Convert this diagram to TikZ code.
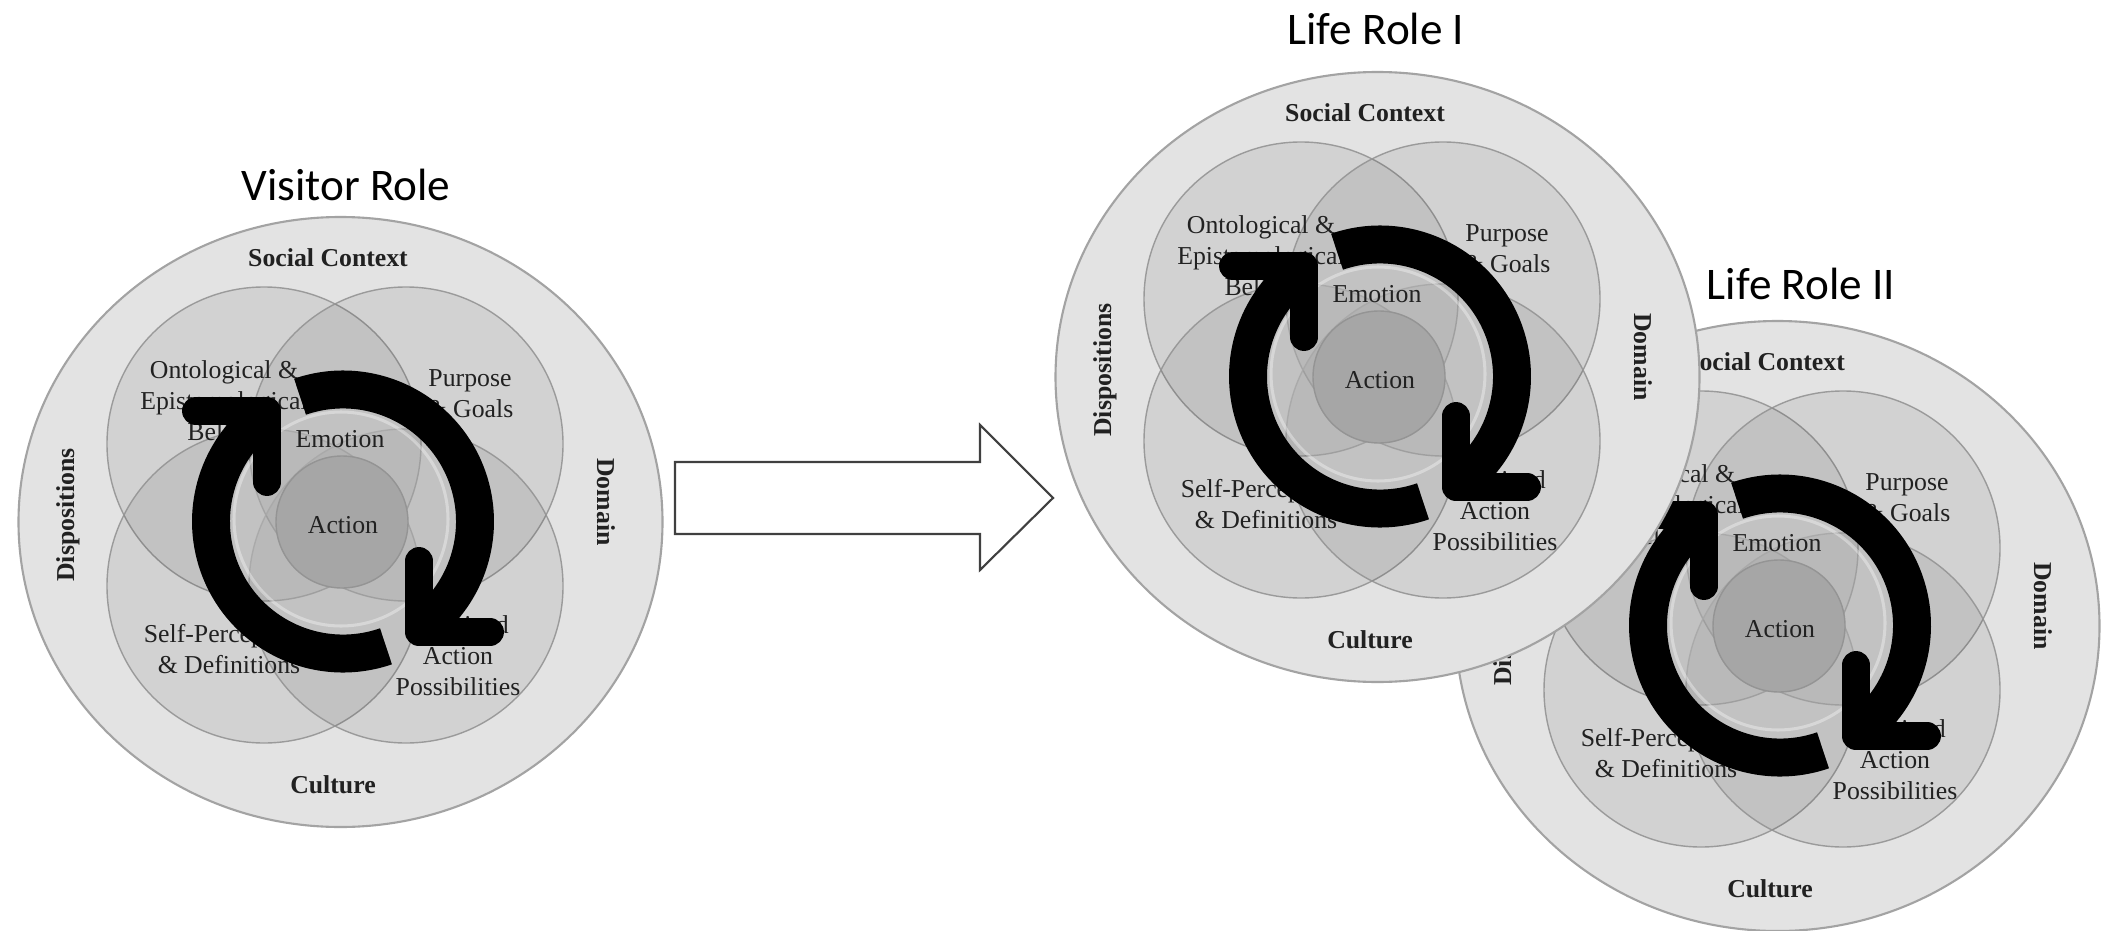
\documentclass[tikz,border=0pt]{standalone}
\usepackage{fontspec}
\setmainfont{Liberation Serif}
\newfontfamily\titlefont{Carlito}
\definecolor{ringfill}{gray}{0.89}
\definecolor{ringline}{gray}{0.64}
\definecolor{petalline}{gray}{0.58}
\definecolor{emofill}{gray}{0.76}
\definecolor{actfill}{gray}{0.65}
\definecolor{actline}{gray}{0.58}
\definecolor{txt}{gray}{0.13}
\tikzset{
  ring/.style={fill=ringfill, draw=ringline, line width=0.9pt},
  petal/.style={fill=black, fill opacity=0.075, draw=petalline, draw opacity=0.9, line width=0.6pt},
  emo/.style={fill=emofill, fill opacity=0.45, draw=white, draw opacity=0.35, line width=1.3pt},
  act/.style={fill=actfill, draw=actline, line width=0.6pt},
  lbl/.style={font=\fontsize{11}{13.2}\selectfont, text=txt, align=center, inner sep=0pt},
  blbl/.style={font=\bfseries\fontsize{11}{13.2}\selectfont, text=txt, inner sep=0pt},
  ttl/.style={font=\titlefont\fontsize{19.3}{22}\selectfont, text=black, inner sep=0pt},
  cyc/.style={draw=black, line width=16.2pt},
  chev/.style={draw=black, line width=11.9pt, line cap=round, line join=round},
  blockarrow/.style={draw=black!75, fill=white, line width=0.9pt, line join=miter},
}
% #1 name prefix, #2 x, #3 y of the Action centre
\newcommand\roleDiagram[3]{%
\begin{scope}[shift={(#2,#3)}]
  \path[ring] (-1.5,0) ellipse [x radius=322, y radius=305];
  \path[petal] (-78,78) circle [radius=157];
  \path[petal] (64,78) circle [radius=157];
  \path[petal] (-78,-64) circle [radius=157];
  \path[petal] (64,-64) circle [radius=157];
  \path[emo] (-1,3) circle [radius=107];
  \path[act] (0,0) circle [radius=66];
  \node[blbl] (#1-sc) at (-14,264) {Social Context};
  \node[blbl] (#1-cu) at (-9,-263) {Culture};
  \node[blbl, rotate=90] (#1-di) at (-274,7) {Dispositions};
  \node[blbl, rotate=-90] (#1-do) at (264,20) {Domain};
  \node[lbl] (#1-onto) at (-118,121) {Ontological \&\\Epistemological\\Beliefs};
  \node[lbl] (#1-purp) at (128,128) {Purpose\\\& Goals};
  \node[lbl] (#1-emo) at (-2,83) {Emotion};
  \node[lbl] (#1-act) at (1,-3) {Action};
  \node[lbl] (#1-self) at (-113,-127) {Self-Perceptions\\\& Definitions};
  \node[lbl] (#1-perc) at (116,-134) {Perceived\\Action\\Possibilities};
  \draw[cyc] ([shift={(109:132)}]1,0.5) arc [start angle=109, end angle=-50, radius=132];
  \draw[cyc] ([shift={(-71:132)}]1,0.5) arc [start angle=-71, end angle=-230, radius=132];
  \draw[chev] (77,-39) -- (77,-110) -- (148,-110);
  \draw[chev] (-146,111) -- (-75,111) -- (-75,40);
\end{scope}}
\begin{document}
\begin{tikzpicture}[x=0.015cm, y=0.015cm]
  \useasboundingbox (0,0) rectangle (2101,930);
  \fill[white] (0,0) rectangle (2101,930);
  \roleDiagram{lrii}{1779}{304}
  \roleDiagram{lri}{1379}{553}
  \roleDiagram{vis}{342}{408}
  \draw[blockarrow] (675,468) -- (980,468) -- (980,505) -- (1053,432) -- (980,360) -- (980,396) -- (675,396) -- cycle;
  \node[ttl] (tvis) at (346,745) {Visitor Role};
  \node[ttl] (tlri) at (1376,901) {Life Role I};
  \node[ttl] (tlrii) at (1801,646) {Life Role II};
\end{tikzpicture}
\end{document}
